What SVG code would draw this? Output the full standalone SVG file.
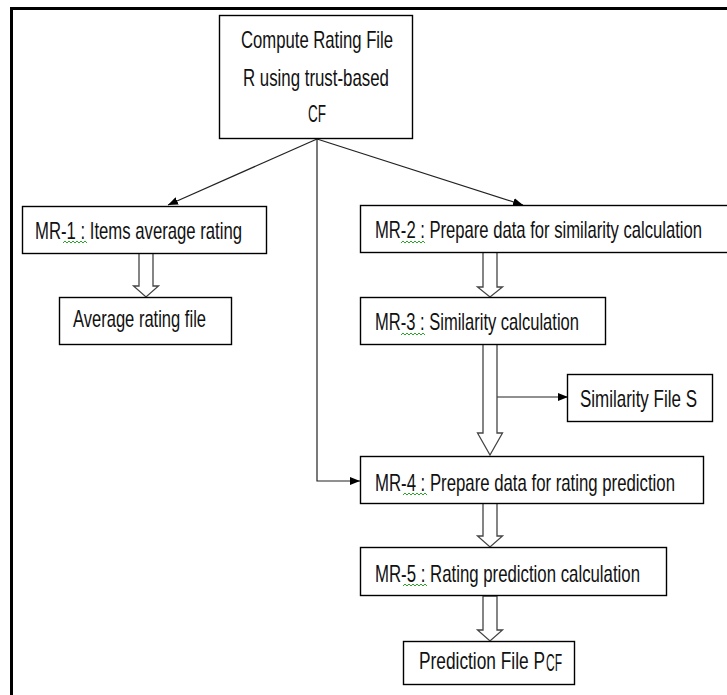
<svg xmlns="http://www.w3.org/2000/svg" width="727" height="695" viewBox="0 0 727 695">
<defs>
<marker id="ah" markerWidth="10" markerHeight="8" refX="10" refY="4" orient="auto" markerUnits="userSpaceOnUse">
<path d="M0,0 L10,4 L0,8 z" fill="#000"/>
</marker>
</defs>
<style>
.box{fill:#fff;stroke:#000;stroke-width:1.4}
.t{font-family:"Liberation Sans",Arial,sans-serif;font-size:23px;fill:#111}
.ln{fill:none;stroke:#222;stroke-width:1.2}
.ha{fill:#fff;stroke:#444;stroke-width:1.3}
.sq{fill:none;stroke:#2aa52a;stroke-width:1}
</style>
<rect width="727" height="695" fill="#fff"/>
<path d="M11.5,700 V8.5 H730" fill="none" stroke="#000" stroke-width="3"/>

<g id="connectors">
<line class="ln" x1="317" y1="139" x2="168" y2="205" marker-end="url(#ah)"/>
<line class="ln" x1="317" y1="139" x2="523" y2="205" marker-end="url(#ah)"/>
<path class="ln" d="M317,139 V481 H360" marker-end="url(#ah)"/>
<line class="ln" x1="497" y1="397" x2="568" y2="397" marker-end="url(#ah)"/>
<polygon class="ha" points="139,253 153,253 153,286 158.5,286 146,297 133.5,286 139,286"/>
<polygon class="ha" points="483,252 497,252 497,287 502.5,287 490,297 477.5,287 483,287"/>
<polygon class="ha" points="483,344 497,344 497,433 502.5,433 490,455 477.5,433 483,433"/>
<polygon class="ha" points="483,503 497,503 497,536 502.5,536 490,547 477.5,536 483,536"/>
<polygon class="ha" points="483,596 497,596 497,630 502.5,630 490,641 477.5,630 483,630"/>
</g>

<g id="top">
<rect class="box" x="219.5" y="15.5" width="193" height="123"/>
<text class="t" transform="translate(241,48) scale(0.76,1)" textLength="200" lengthAdjust="spacingAndGlyphs">Compute Rating File</text>
<text class="t" transform="translate(243,86) scale(0.76,1)" textLength="192" lengthAdjust="spacingAndGlyphs">R using trust-based</text>
<text class="t" transform="translate(308,122) scale(0.76,1)" textLength="23.7" lengthAdjust="spacingAndGlyphs">CF</text>
</g>

<g id="mr1">
<rect class="box" x="22.5" y="206.5" width="244" height="47"/>
<text class="t" transform="translate(35,239) scale(0.76,1)" textLength="272.4" lengthAdjust="spacingAndGlyphs">MR-1 : Items average rating</text>
<path class="sq" d="M63,243 l2,-2 l2,2 l2,-2 l2,2 l2,-2 l2,2 l2,-2 l2,2 l2,-2 l2,2 l2,-2 l2,2"/>
</g>

<g id="avg">
<rect class="box" x="59.5" y="297.5" width="172" height="47"/>
<text class="t" transform="translate(73,327) scale(0.76,1)" textLength="175" lengthAdjust="spacingAndGlyphs">Average rating file</text>
</g>

<g id="mr2">
<rect class="box" x="360.5" y="205.5" width="380" height="47"/>
<text class="t" transform="translate(375,238) scale(0.76,1)" textLength="430.3" lengthAdjust="spacingAndGlyphs">MR-2 : Prepare data for similarity calculation</text>
<path class="sq" d="M401,243 l2,-2 l2,2 l2,-2 l2,2 l2,-2 l2,2 l2,-2 l2,2 l2,-2 l2,2 l2,-2 l2,2"/>
</g>

<g id="mr3">
<rect class="box" x="360.5" y="297.5" width="245" height="47"/>
<text class="t" transform="translate(375,330) scale(0.76,1)" textLength="268.4" lengthAdjust="spacingAndGlyphs">MR-3 : Similarity calculation</text>
<path class="sq" d="M401,335 l2,-2 l2,2 l2,-2 l2,2 l2,-2 l2,2 l2,-2 l2,2 l2,-2 l2,2 l2,-2 l2,2"/>
</g>

<g id="simfile">
<rect class="box" x="567.5" y="374.5" width="145" height="47"/>
<text class="t" transform="translate(580,407) scale(0.76,1)" textLength="153.9" lengthAdjust="spacingAndGlyphs">Similarity File S</text>
</g>

<g id="mr4">
<rect class="box" x="360.5" y="456.5" width="343" height="47"/>
<text class="t" transform="translate(375,491) scale(0.76,1)" textLength="394.7" lengthAdjust="spacingAndGlyphs">MR-4 : Prepare data for rating prediction</text>
<path class="sq" d="M403,495 l2,-2 l2,2 l2,-2 l2,2 l2,-2 l2,2 l2,-2 l2,2 l2,-2 l2,2 l2,-2 l2,2"/>
</g>

<g id="mr5">
<rect class="box" x="360.5" y="547.5" width="306" height="48"/>
<text class="t" transform="translate(375,582) scale(0.76,1)" textLength="348.7" lengthAdjust="spacingAndGlyphs">MR-5 : Rating prediction calculation</text>
<path class="sq" d="M403,586 l2,-2 l2,2 l2,-2 l2,2 l2,-2 l2,2 l2,-2 l2,2 l2,-2 l2,2 l2,-2 l2,2"/>
</g>

<g id="pred">
<rect class="box" x="403.5" y="641.5" width="171" height="43"/>
<text class="t" transform="translate(419,669) scale(0.76,1)" textLength="165.8" lengthAdjust="spacingAndGlyphs">Prediction File P</text>
<text class="t" transform="translate(546,671) scale(0.76,1)" font-size="14" textLength="21.1" lengthAdjust="spacingAndGlyphs">CF</text>
</g>
</svg>
